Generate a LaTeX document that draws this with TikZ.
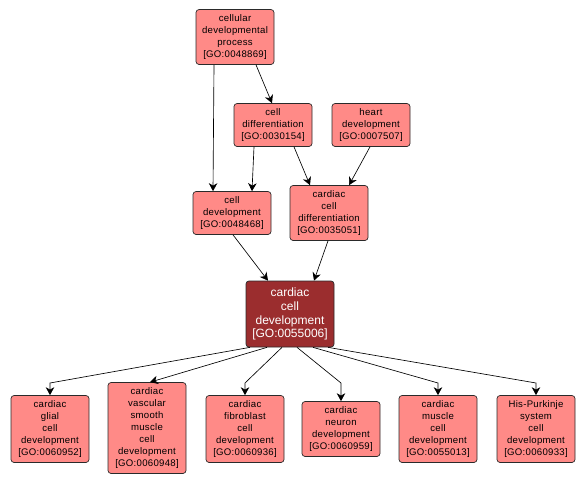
\documentclass[tikz,border=0pt]{standalone}
\usepackage{fontspec}
\setmainfont{Liberation Sans}
\usepackage{tikz}
\usetikzlibrary{arrows.meta}
\definecolor{cTermo}{HTML}{FF8A87}
\definecolor{cFoco}{HTML}{9B2D2E}
\definecolor{cBorda}{HTML}{2A2A2A}

\begin{document}
\begin{tikzpicture}[
  x=1pt,y=-1pt,
  term/.style={draw=cBorda,fill=cTermo,rounded corners=3pt,line width=0.7pt,
               align=center,inner xsep=1pt,inner ysep=5pt,minimum width=78pt,
               font=\fontsize{9.6}{12}\selectfont\addfontfeatures{LetterSpace=3}},
  focus/.style={draw=cBorda,fill=cFoco,rounded corners=3pt,line width=0.7pt,
               align=center,inner xsep=1pt,inner ysep=4pt,minimum width=88pt,
               minimum height=66pt,text=white,font=\fontsize{12}{13.8}\selectfont},
  ar/.style={-{Stealth[length=8pt,width=8.5pt,inset=2.5pt]},draw=black,line width=0.65pt}
]
\useasboundingbox (0,0) rectangle (587,485);

% ---- topo
\node[term] (cdp)   at (235,37)  {cellular\\ developmental\\ process\\{}[GO:0048869]};
\node[term] (cdiff) at (273,125) {cell\\ differentiation\\{}[GO:0030154]};
\node[term] (heart) at (371,125) {heart\\ development\\{}[GO:0007507]};
\node[term] (cdev)  at (232,213) {cell\\ development\\{}[GO:0048468]};
\node[term] (ccd)   at (329,213) {cardiac\\ cell\\ differentiation\\{}[GO:0035051]};

% ---- termo central
\node[focus] (ccdev) at (290,314) {cardiac\\ cell\\ development\\{}[GO:0055006]};

% ---- filhos
\node[term] (glial) at (50,429)  {cardiac\\ glial\\ cell\\ development\\{}[GO:0060952]};
\node[term] (vasc)  at (147,428) {cardiac\\ vascular\\ smooth\\ muscle\\ cell\\ development\\{}[GO:0060948]};
\node[term] (fibro) at (245,429) {cardiac\\ fibroblast\\ cell\\ development\\{}[GO:0060936]};
\node[term] (neur)  at (341,429) {cardiac\\ neuron\\ development\\{}[GO:0060959]};
\node[term] (musc)  at (438,429) {cardiac\\ muscle\\ cell\\ development\\{}[GO:0055013]};
\node[term] (purk)  at (536,429) {His-Purkinje\\ system\\ cell\\ development\\{}[GO:0060933]};

% ---- setas de cima
\draw[ar] ([xshift=-21pt]cdp.south) -- ([xshift=-19pt]cdev.north);
\draw[ar] ([xshift=21pt]cdp.south) -- ([xshift=-1pt]cdiff.north);
\draw[ar] ([xshift=-19pt]cdiff.south) -- ([xshift=20pt]cdev.north);
\draw[ar] ([xshift=21pt]cdiff.south) -- ([xshift=-19pt]ccd.north);
\draw[ar] ([xshift=-1pt]heart.south) -- ([xshift=20pt]ccd.north);
\draw[ar] ([xshift=1pt]cdev.south) -- ([xshift=-22pt]ccdev.north);
\draw[ar] ([xshift=-1pt]ccd.south) -- ([xshift=24pt]ccdev.north);

% ---- setas para baixo
\coordinate (kGlial) at (50,383);
\coordinate (kFibro) at (245,383);
\coordinate (kNeur)  at (341,383);
\coordinate (kMusc)  at (438,383);
\coordinate (kPurk)  at (536,383);
\draw[ar] ([xshift=-40pt]ccdev.south) -- (kGlial) -- (glial.north);
\draw[ar] ([xshift=-23pt]ccdev.south) -- ([xshift=3pt]vasc.north);
\draw[ar] ([xshift=-8pt]ccdev.south) -- (kFibro) -- (fibro.north);
\draw[ar] ([xshift=7pt]ccdev.south) -- (kNeur) -- (neur.north);
\draw[ar] ([xshift=23pt]ccdev.south) -- (kMusc) -- (musc.north);
\draw[ar] ([xshift=38pt]ccdev.south) -- (kPurk) -- (purk.north);
\end{tikzpicture}
\end{document}
